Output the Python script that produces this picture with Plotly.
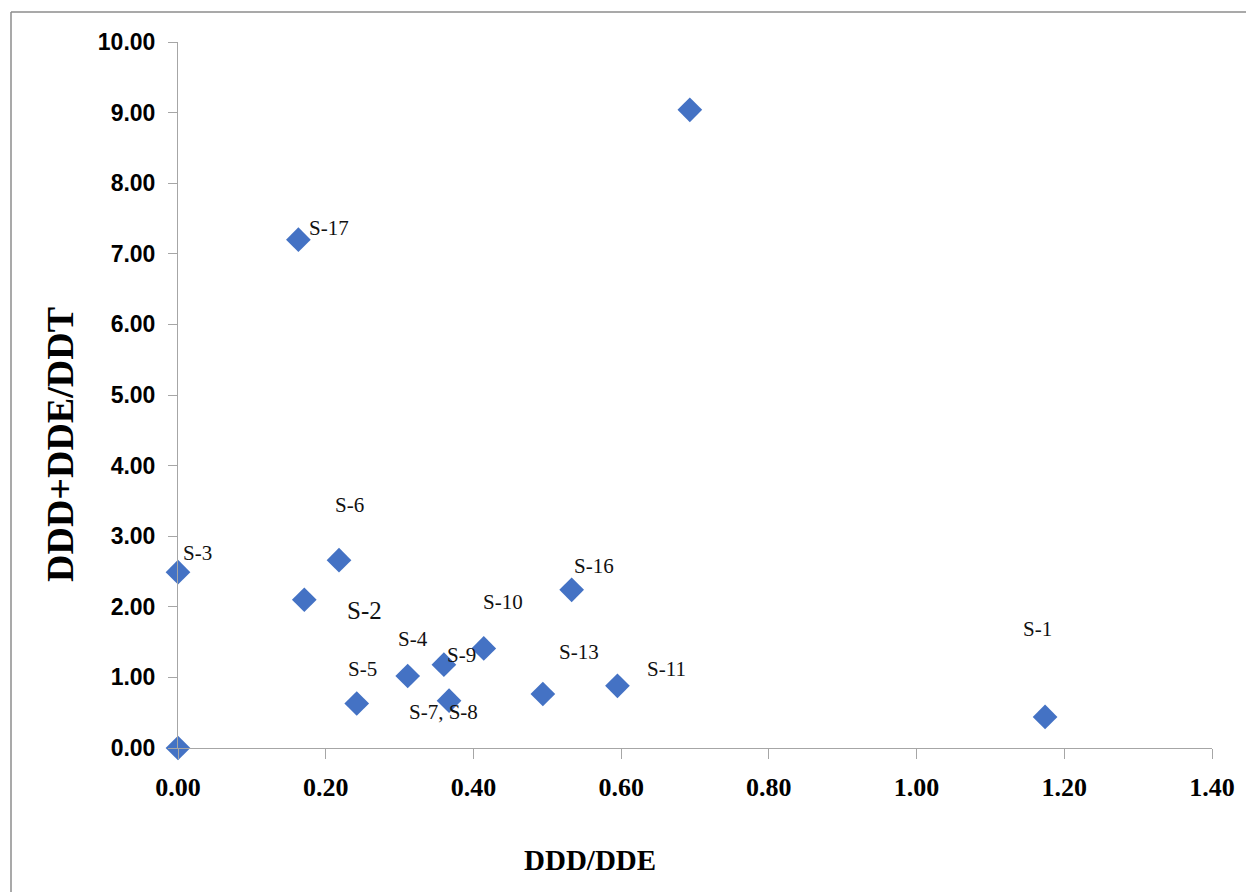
import plotly.graph_objects as go

# Data
ddd_dde = [0.000, 0.000, 0.163, 0.171, 0.218, 0.242, 0.311, 0.360, 0.367, 0.414, 0.494, 0.533, 0.595, 0.693, 1.174]
ddd_dde_ddt = [0.00, 2.49, 7.20, 2.10, 2.66, 0.63, 1.02, 1.18, 0.67, 1.41, 0.765, 2.24, 0.88, 9.04, 0.44]
labels = ["", "S-3", "S-17", "S-2", "S-6", "S-5", "S-4", "S-9", "S-7, S-8", "S-10", "S-13", "S-16", "S-11", "", "S-1"]

# label offsets in screen pixels (dx right, dy down) — styling only
label_dx = [0, 19, 31, 60, 10, 6, 5, 18, -6, 19, 36, 22, 49, 0, -8]
label_dy = [0, -19, -12, 11, -55, -35, -37, -10, 11, -46, -42, -24, -17, 0, -88]
label_size = [21, 21, 21, 25, 21, 21, 21, 21, 21, 21, 21, 21, 21, 21, 21]

x_ticks = [0.0, 0.2, 0.4, 0.6, 0.8, 1.0, 1.2, 1.4]
y_ticks = [0, 1, 2, 3, 4, 5, 6, 7, 8, 9, 10]

# page body has an 8px margin; lay out in window pixels, shifted by it
OFF = 8
W, H = 1254 - OFF, 892 - OFF
ML, MT = 178 - OFF, 42 - OFF
PW, PH = 1212 - 178, 748 - 42
MR, MB = W - ML - PW, H - MT - PH


def px_x(px):
    return (px - 178) / PW


def px_y(py):
    return (748 - py) / PH


fig = go.Figure()
fig.add_trace(go.Scatter(
    x=ddd_dde, y=ddd_dde_ddt, mode="markers",
    marker=dict(symbol="diamond", size=19, color="#4472C4", line=dict(width=0)),
    cliponaxis=False, hoverinfo="x+y", showlegend=False,
))

annotations = []
for xv, yv, t, dx, dy, fs in zip(ddd_dde, ddd_dde_ddt, labels, label_dx, label_dy, label_size):
    if not t:
        continue
    annotations.append(dict(
        x=xv, y=yv, xref="x", yref="y", text=t, showarrow=False,
        xanchor="center", yanchor="middle", xshift=dx, yshift=-dy,
        font=dict(family="Liberation Serif, Times New Roman, serif", size=fs, color="#111111"),
    ))

# axis titles
annotations.append(dict(
    x=px_x(590), y=px_y(860), xref="paper", yref="paper",
    text="<b>DDD/DDE</b>", showarrow=False, xanchor="center", yanchor="middle",
    font=dict(family="Liberation Serif, Times New Roman, serif", size=29, color="#000000"),
))
annotations.append(dict(
    x=px_x(60), y=px_y(445), xref="paper", yref="paper",
    text="<b>DDD+DDE/DDT</b>", showarrow=False, xanchor="center", yanchor="middle",
    textangle=-90,
    font=dict(family="Liberation Serif, Times New Roman, serif", size=38, color="#000000"),
))

axis_grey = "#A6A6A6"
fig.update_layout(
    width=W, height=H,
    margin=dict(l=ML, r=MR, t=MT, b=MB, pad=0),
    paper_bgcolor="white", plot_bgcolor="white",
    xaxis=dict(
        range=[0, 1.4], tickvals=x_ticks, ticktext=[f"{v:.2f}" for v in x_ticks],
        showgrid=False, zeroline=False, showline=True, linecolor=axis_grey, linewidth=1,
        ticks="outside", ticklen=10, tickcolor=axis_grey, tickwidth=1,
        tickfont=dict(family="Liberation Serif, Times New Roman, serif", size=26, color="#000000", weight="bold"),
        ticklabelstandoff=6,
    ),
    yaxis=dict(
        range=[0, 10], tickvals=y_ticks, ticktext=[f"{v:.2f}" for v in y_ticks],
        showgrid=False, zeroline=False, showline=True, linecolor=axis_grey, linewidth=1,
        ticks="outside", ticklen=9, tickcolor=axis_grey, tickwidth=1,
        tickfont=dict(family="Liberation Sans, Arial, sans-serif", size=23, color="#000000", weight="bold"),
        ticklabelstandoff=8,
    ),
    annotations=annotations,
    shapes=[
        dict(type="line", xref="paper", yref="paper",
             x0=px_x(11), x1=px_x(1260), y0=px_y(12), y1=px_y(12),
             line=dict(color="#8C8C8C", width=1.5)),
        dict(type="line", xref="paper", yref="paper",
             x0=px_x(11), x1=px_x(11), y0=px_y(12), y1=px_y(900),
             line=dict(color="#8C8C8C", width=1.5)),
    ],
)

fig.write_html("out.html")
